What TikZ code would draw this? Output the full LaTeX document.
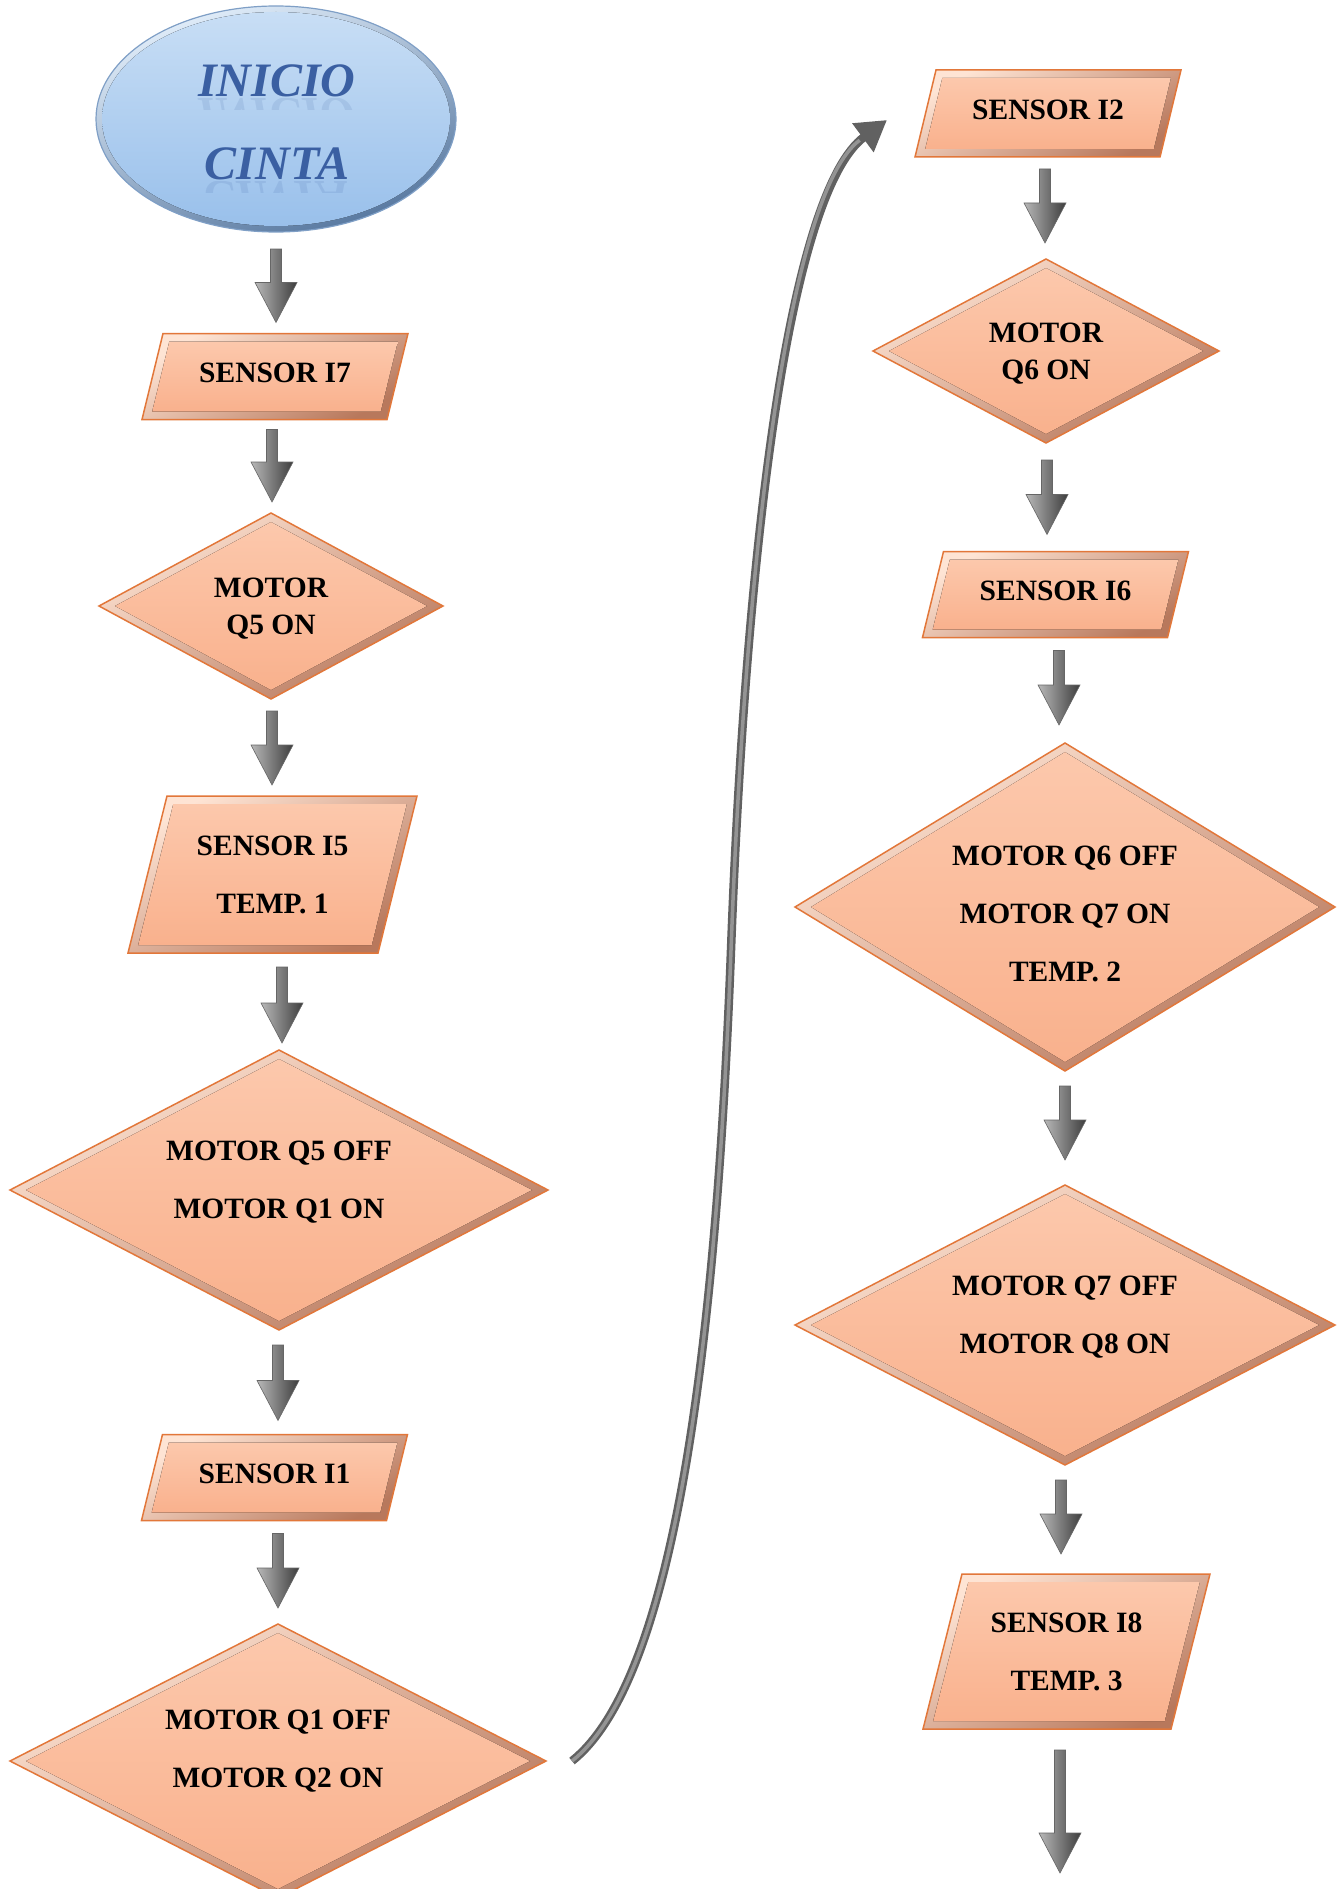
\documentclass[tikz,border=0pt]{standalone}
\usepackage{fontspec}
\setmainfont{Liberation Serif}
\usetikzlibrary{shapes.geometric,calc,arrows.meta}
\pgfdeclarelayer{background}
\pgfsetlayers{background,main}

\definecolor{peachtop}{HTML}{FCC8AC}
\definecolor{peachbot}{HTML}{F9B18D}
\definecolor{bevellight}{HTML}{FEE4D4}
\definecolor{beveldark}{HTML}{B8785C}
\definecolor{edgeorange}{HTML}{E2773A}
\definecolor{skytop}{HTML}{C8DEF5}
\definecolor{skybot}{HTML}{99C0EB}
\definecolor{skyrimlight}{HTML}{E2EEFA}
\definecolor{skyrimdark}{HTML}{56779F}
\definecolor{skyedge}{HTML}{7F9FC6}
\definecolor{inkblue}{HTML}{3A5FA2}

\tikzset{
  flowbox/.style={rectangle, inner sep=0pt, outer sep=0pt},
  flowdia/.style={diamond, inner sep=0pt, outer sep=0pt},
  txttight/.style={font=\bfseries\fontsize{29.5pt}{37pt}\selectfont, align=center, inner sep=0pt, text depth=0pt},
  txtloose/.style={font=\bfseries\fontsize{29.5pt}{58pt}\selectfont, align=center, inner sep=0pt, text depth=0pt},
  oneline/.style={text depth=8pt},
  headline/.style={font=\bfseries\itshape\fontsize{48pt}{58pt}\selectfont, text=inkblue, inner sep=0pt},
  bevelrim/.style={shading=axis, top color=bevellight, bottom color=beveldark, shading angle=30,
                   draw=edgeorange, line width=1.5pt, line join=miter},
  bevelface/.style={top color=peachtop, bottom color=peachbot},
  arrowbody/.style={left color=black!28, right color=black!76, draw=black!60, line width=0.6pt, line join=miter},
  returnpath/.style={draw=black!62, line width=8.5pt, -{Triangle[length=30pt,width=34pt]}},
  returncore/.style={draw=black!42, line width=3.5pt, shorten >=34pt},
}

% bevelled parallelogram behind a rectangular node: #1 node, #2 horizontal slant
\newcommand\paraframe[2]{%
  \begin{pgfonlayer}{background}
  \begin{scope}
  \clip (0,0) rectangle (1343,1889);
  \path[bevelrim] ($(#1.north west)+(#2,0pt)$) -- (#1.north east)
     -- ($(#1.south east)-(#2,0pt)$) -- (#1.south west) -- cycle;
  \fill[bevelface] ($(#1.north west)+(#2+6.3pt,-8pt)$) -- ($(#1.north east)+(-10.2pt,-8pt)$)
     -- ($(#1.south east)+(-#2-6.3pt,8pt)$) -- ($(#1.south west)+(10.2pt,8pt)$) -- cycle;
  \end{scope}
  \end{pgfonlayer}}

% bevelled diamond behind a diamond node
\newcommand\diaframe[1]{%
  \begin{pgfonlayer}{background}
  \begin{scope}
  \clip (0,0) rectangle (1343,1889);
  \path[bevelrim] (#1.north) -- (#1.east) -- (#1.south) -- (#1.west) -- cycle;
  \fill[bevelface] ($(#1.north)+(0pt,-9pt)$) -- ($(#1.east)+(-16pt,0pt)$)
     -- ($(#1.south)+(0pt,9pt)$) -- ($(#1.west)+(16pt,0pt)$) -- cycle;
  \end{scope}
  \end{pgfonlayer}}

% downward block arrow from #1 to #2 (tip at #2)
\newcommand\flowarrow[2]{%
  \path[arrowbody] let \p1=(#1), \p2=(#2) in
    (\x1-5.5pt,\y1) -- (\x1-5.5pt,\y2+40pt) -- (\x1-21pt,\y2+40pt) -- (\x1,\y2)
    -- (\x1+21pt,\y2+40pt) -- (\x1+5.5pt,\y2+40pt) -- (\x1+5.5pt,\y1) -- cycle;}

\begin{document}
\begin{tikzpicture}[x=1pt,y=-1pt]
\useasboundingbox (0,0) rectangle (1343,1889);
\begin{pgfonlayer}{background}
  \fill[white] (0,0) rectangle (1343,1889);
\end{pgfonlayer}

% ---------- start ellipse ----------
\node[ellipse, minimum width=360pt, minimum height=226pt, inner sep=0pt, outer sep=0pt,
      shading=axis, top color=skyrimlight, bottom color=skyrimdark, shading angle=20,
      draw=skyedge, line width=1.2pt] (start) at (276,119) {};
\fill[top color=skytop, bottom color=skybot] (start.center) ellipse [x radius=174pt, y radius=107pt];
\node[headline, anchor=base] (w1) at (277,97) {INICIO};
\node[headline, anchor=base] (w2) at (277,180) {CINTA};
\begin{scope}
  \clip (130,99) rectangle (420,110);
  \node[headline, anchor=base, yscale=-1, opacity=0.13] (w1r) at (277,99) {INICIO};
\end{scope}
\begin{scope}
  \clip (130,182) rectangle (420,193);
  \node[headline, anchor=base, yscale=-1, opacity=0.13] (w2r) at (277,182) {CINTA};
\end{scope}

% ---------- left column ----------
\node[flowbox, txttight, oneline, minimum width=266pt, minimum height=86pt] (s7) at (275,376.5) {SENSOR I7};
\paraframe{s7}{21pt}
\node[flowdia, txttight, minimum width=344pt, minimum height=186pt] (q5on) at (271,606) {MOTOR\\Q5 ON};
\diaframe{q5on}
\node[flowbox, txtloose, minimum width=289pt, minimum height=157pt] (i5) at (272.5,874.5) {SENSOR I5\\TEMP. 1};
\paraframe{i5}{39pt}
\node[flowdia, minimum width=538pt, minimum height=280pt] (q5off) at (279,1190) {};
\diaframe{q5off}
\node[txtloose] (q5offtext) at ([yshift=10pt]q5off.center) {MOTOR Q5 OFF\\MOTOR Q1 ON};
\node[flowbox, txttight, oneline, minimum width=266pt, minimum height=86pt] (i1) at (274.5,1477.5) {SENSOR I1};
\paraframe{i1}{21pt}
\node[flowdia, minimum width=536pt, minimum height=274pt] (q1off) at (278,1761) {};
\diaframe{q1off}
\node[txtloose] (q1offtext) at ([yshift=12pt]q1off.center) {MOTOR Q1 OFF\\MOTOR Q2 ON};

% ---------- right column ----------
\node[flowbox, txttight, oneline, minimum width=266pt, minimum height=87pt] (i2) at (1048,113.5) {SENSOR I2};
\paraframe{i2}{21pt}
\node[flowdia, txttight, minimum width=346pt, minimum height=184pt] (q6on) at (1046,351) {MOTOR\\Q6 ON};
\diaframe{q6on}
\node[flowbox, txttight, oneline, minimum width=266pt, minimum height=86pt] (i6) at (1055.5,594.5) {SENSOR I6};
\paraframe{i6}{21pt}
\node[flowdia, minimum width=540pt, minimum height=328pt] (q6off) at (1065,907) {};
\diaframe{q6off}
\node[txtloose] (q6offtext) at ([yshift=-6.5pt]q6off.center) {MOTOR Q6 OFF\\MOTOR Q7 ON\\TEMP. 2};
\node[flowdia, minimum width=540pt, minimum height=280pt] (q7off) at (1065,1325) {};
\diaframe{q7off}
\node[txtloose] (q7offtext) at ([yshift=10pt]q7off.center) {MOTOR Q7 OFF\\MOTOR Q8 ON};
\node[flowbox, txtloose, minimum width=287pt, minimum height=155pt] (i8) at (1066.5,1651.5) {SENSOR I8\\TEMP. 3};
\paraframe{i8}{39pt}
\coordinate (exit) at (1060,1873);

% ---------- block arrows ----------
\flowarrow{[yshift=-17pt]start.south}{[yshift=11pt]s7.north}
\flowarrow{[xshift=-3pt,yshift=-10pt]s7.south}{[yshift=11pt]q5on.north}
\flowarrow{[xshift=1pt,yshift=-12pt]q5on.south}{[yshift=11pt]i5.north}
\flowarrow{[xshift=9.5pt,yshift=-14pt]i5.south}{[yshift=7pt]q5off.north}
\flowarrow{[xshift=-1pt,yshift=-15pt]q5off.south}{[yshift=14pt]i1.north}
\flowarrow{[xshift=3.5pt,yshift=-13pt]i1.south}{[yshift=16pt]q1off.north}
\flowarrow{[xshift=-3pt,yshift=-12pt]i2.south}{[yshift=16pt]q6on.north}
\flowarrow{[xshift=1pt,yshift=-17pt]q6on.south}{[yshift=17pt]i6.north}
\flowarrow{[xshift=3.5pt,yshift=-13pt]i6.south}{[yshift=18pt]q6off.north}
\flowarrow{[yshift=-15pt]q6off.south}{[yshift=25pt]q7off.north}
\flowarrow{[xshift=-4pt,yshift=-15pt]q7off.south}{[yshift=20pt]i8.north}
\flowarrow{[xshift=-6.5pt,yshift=-21pt]i8.south}{exit}

% ---------- return connector to the second column ----------
\coordinate (loopA) at ([xshift=26pt]q1off.east);
\coordinate (loopM) at (731,950);
\coordinate (loopB) at ([xshift=-28pt,yshift=-6.5pt]i2.west);
\draw[returnpath] (loopA) .. controls (665.6,1686.6) and (714,1400) .. (loopM)
  .. controls (746.5,530) and (791,191) .. (loopB);
\draw[returncore] (loopA) .. controls (665.6,1686.6) and (714,1400) .. (loopM)
  .. controls (746.5,530) and (791,191) .. (loopB);
\end{tikzpicture}
\end{document}
